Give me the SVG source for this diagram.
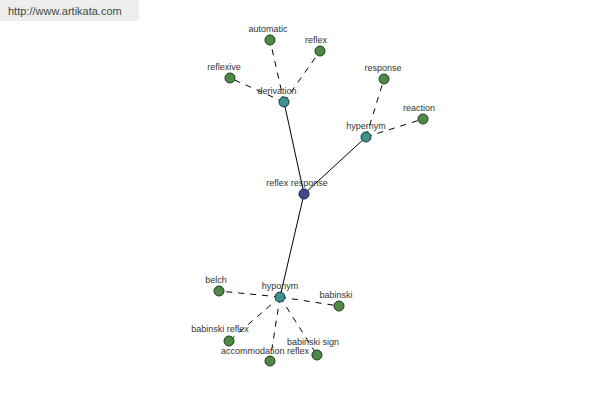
<svg xmlns="http://www.w3.org/2000/svg" width="600" height="400" viewBox="0 0 600 400">
<style>
.s{stroke:#000;stroke-width:1;fill:none}
.d{stroke:#000;stroke-width:1;fill:none;stroke-dasharray:6,6}
.leaf{fill:#4f8a45;stroke:#1e3a1a;stroke-width:1}
.hub{fill:#3f8f8f;stroke:#1a3a3a;stroke-width:1}
.root{fill:#3e4a8e;stroke:#1a1f40;stroke-width:1}
text{font-family:"Liberation Sans",Arial,sans-serif;font-size:9px;fill:#333;text-anchor:middle}
</style>
<rect x="0" y="0" width="139" height="21" fill="#eeeeee"/>
<text x="8" y="15" style="font-size:11px;text-anchor:start;fill:#3c4a3c">http://www.artikata.com</text>
<g id="connectors">
<line class="s" x1="304" y1="194" x2="284" y2="102"/>
<line class="s" x1="304" y1="194" x2="366" y2="137"/>
<line class="s" x1="304" y1="194" x2="280" y2="297"/>
<line class="d" x1="284" y1="102" x2="270" y2="40"/>
<line class="d" x1="284" y1="102" x2="320" y2="51"/>
<line class="d" x1="284" y1="102" x2="230" y2="78"/>
<line class="d" x1="366" y1="137" x2="384" y2="79"/>
<line class="d" x1="366" y1="137" x2="423" y2="119"/>
<line class="d" x1="280" y1="297" x2="219" y2="291"/>
<line class="d" x1="280" y1="297" x2="339" y2="306"/>
<line class="d" x1="280" y1="297" x2="229" y2="341"/>
<line class="d" x1="280" y1="297" x2="270" y2="361"/>
<line class="d" x1="280" y1="297" x2="317" y2="355"/>
</g>
<g id="n-automatic"><circle class="leaf" cx="270" cy="40" r="5"/><text x="268" y="32">automatic</text></g>
<g id="n-reflex"><circle class="leaf" cx="320" cy="51" r="5"/><text x="316" y="43">reflex</text></g>
<g id="n-reflexive"><circle class="leaf" cx="230" cy="78" r="5"/><text x="224" y="70">reflexive</text></g>
<g id="n-response"><circle class="leaf" cx="384" cy="79" r="5"/><text x="383" y="71">response</text></g>
<g id="n-reaction"><circle class="leaf" cx="423" cy="119" r="5"/><text x="419" y="111">reaction</text></g>
<g id="n-belch"><circle class="leaf" cx="219" cy="291" r="5"/><text x="216" y="283">belch</text></g>
<g id="n-babinski"><circle class="leaf" cx="339" cy="306" r="5"/><text x="336" y="298">babinski</text></g>
<g id="n-babinski-reflex"><circle class="leaf" cx="229" cy="341" r="5"/><text x="220" y="332">babinski reflex</text></g>
<g id="n-accommodation-reflex"><circle class="leaf" cx="270" cy="361" r="5"/><text x="265" y="354">accommodation reflex</text></g>
<g id="n-babinski-sign"><circle class="leaf" cx="317" cy="355" r="5"/><text x="313" y="345">babinski sign</text></g>
<g id="n-derivation"><circle class="hub" cx="284" cy="102" r="5"/><text x="277" y="94">derivation</text></g>
<g id="n-hypernym"><circle class="hub" cx="366" cy="137" r="5"/><text x="366" y="129">hypernym</text></g>
<g id="n-hyponym"><circle class="hub" cx="280" cy="297" r="5"/><text x="280" y="289">hyponym</text></g>
<g id="n-reflex-response"><circle class="root" cx="304" cy="194" r="5"/><text x="297" y="186">reflex response</text></g>
</svg>
